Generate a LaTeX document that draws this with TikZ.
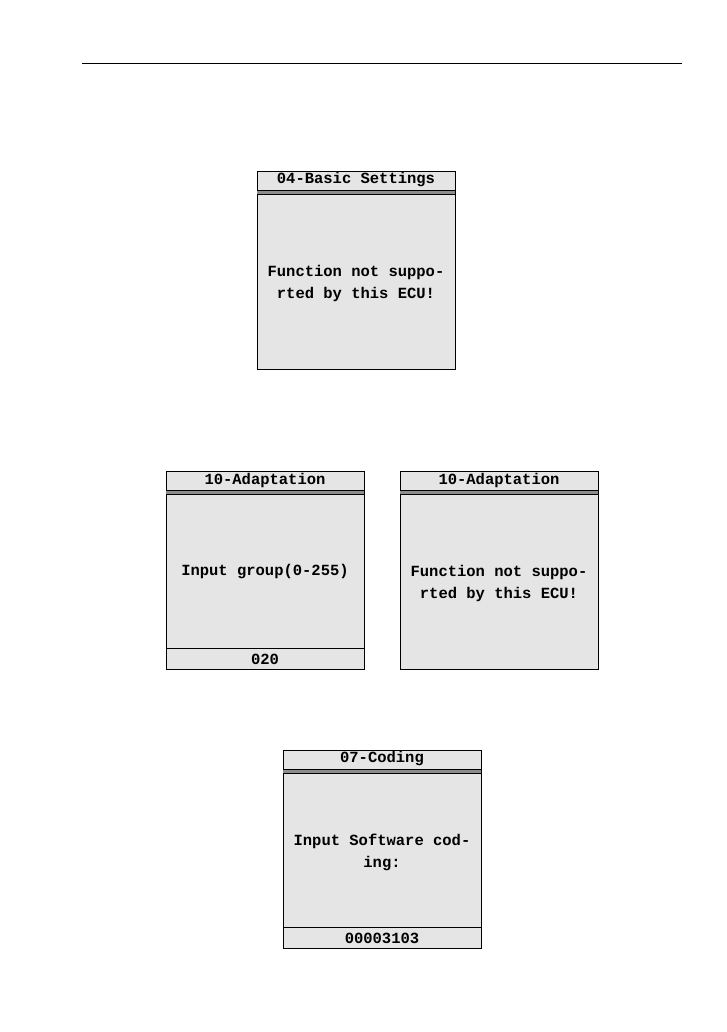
\documentclass[tikz,border=0pt]{standalone}
\usepackage{fontspec}
\setmonofont{Liberation Mono}
\begin{document}
\begin{tikzpicture}[x=1pt,y=-1pt,
  scr/.style={draw=black,fill=black!10,line width=0.8pt},
  txt/.style={font=\ttfamily\bfseries\fontsize{15.5}{22}\selectfont,align=center,inner sep=0pt}]
\useasboundingbox (0,0) rectangle (726,1032);
\draw[line width=1pt] (82,64) -- (682,64);
% screen macro via explicit drawing
\foreach \x/\y/\bot in {257/171/0,166/471/1,400/471/0,283/750/1}{
  \draw[scr] (\x,\y) rectangle ++(198,198);
  \draw[line width=0.6pt] (\x,\y+19.5) -- ++(198,0);
  \draw[line width=0.6pt] (\x,\y+23.5) -- ++(198,0);
  \fill[black!45] (\x,\y+20) rectangle ++(198,3);
  \ifnum\bot=1 \draw[line width=0.6pt] (\x,\y+177) -- ++(198,0); \fi
}
\node[txt] (t1) at (356,180) {04-Basic Settings};
\node[txt] (b1) at (356,283) {Function not suppo-\\rted by this ECU!};
\node[txt] (t2) at (265,480) {10-Adaptation};
\node[txt] (b2) at (265,572) {Input group(0-255)};
\node[txt] (f2) at (265,659) {020};
\node[txt] (t3) at (499,480) {10-Adaptation};
\node[txt] (b3) at (499,583) {Function not suppo-\\rted by this ECU!};
\node[txt] (t4) at (382,759) {07-Coding};
\node[txt] (b4) at (382,852) {Input Software cod-\\ing:};
\node[txt] (f4) at (382,938) {00003103};
\end{tikzpicture}
\end{document}
